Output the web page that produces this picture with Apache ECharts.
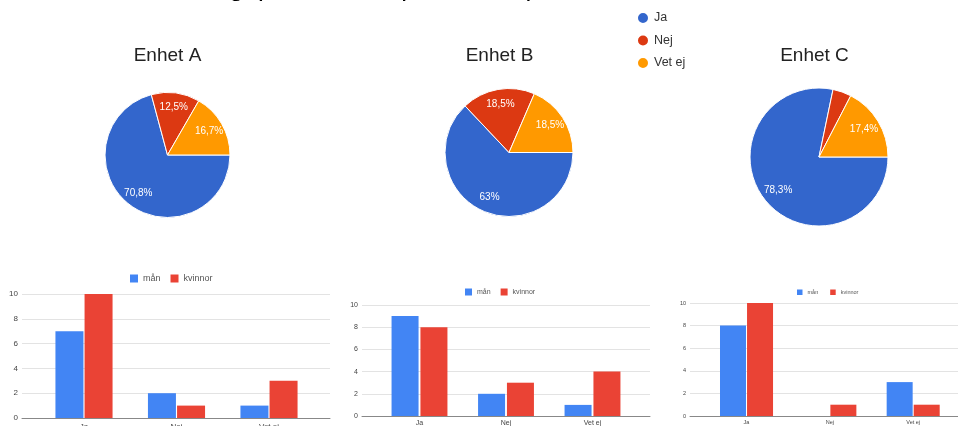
<!DOCTYPE html>
<html><head><meta charset="utf-8">
<script src="https://cdn.jsdelivr.net/npm/echarts@6/dist/echarts.min.js"></script>
<style>html,body{margin:0;padding:0;background:#fff}#c{width:958px;height:426px}</style>
</head><body><div id="c"></div>
<script>
// ---- data ----
const answers = ['Ja', 'Nej', 'Vet ej'];
const units = ['Enhet A', 'Enhet B', 'Enhet C'];
const pieA = [17, 3, 4];
const pieB = [17, 5, 5];
const pieC = [18, 1, 4];
const genders = ['mån', 'kvinnor'];
const manA = [7, 2, 1];
const kvinnorA = [10, 1, 3];
const manB = [9, 2, 1];
const kvinnorB = [8, 3, 4];
const manC = [8, 0, 3];
const kvinnorC = [10, 1, 1];
const yTicks = [0, 2, 4, 6, 8, 10];
const mainTitle = 'Svarsfördelning, per kön och per enhet, per svar';

// ---- styling ----
const FONT = '"Liberation Sans", Arial, sans-serif';
const pieColors = ['#3366CC', '#DC3912', '#FF9900'];
const barColors = ['#4285F4', '#EA4335'];

const pies = [
  {data: pieA, cx: 167.5, cy: 155, r: 62.5, tx: 167.5},
  {data: pieB, cx: 509, cy: 152.5, r: 64, tx: 499.5},
  {data: pieC, cx: 819, cy: 157, r: 69, tx: 814.5}
];
const barCharts = [
  {man: manA, kv: kvinnorA, top: 294, bottom: 8, lineL: 22, lineR: 628, barL: 37.75, barR: 642.75, fs: 8, bw: 28, gap: '4%', lx: 130, ly: 278, ls: 8, lfs: 9, lgap: 10, xm: 5},
  {man: manB, kv: kvinnorB, top: 305, bottom: 10, lineL: 362, lineR: 308, barL: 376.25, barR: 322.25, fs: 7, bw: 27, gap: '7%', lx: 465, ly: 292, ls: 7, lfs: 7, lgap: 10, xm: 4},
  {man: manC, kv: kvinnorC, top: 303, bottom: 10, lineL: 690, lineR: 0, barL: 704.85, barR: 3.15, fs: 5.5, bw: 26, gap: '4%', lx: 797, ly: 292, ls: 5.5, lfs: 5.5, lgap: 12, xm: 3}
];

function fmtPct(p) {
  if (p.percent < 5) return '';
  const v = Math.round(p.percent * 10) / 10;
  return String(v).replace('.', ',') + '%';
}

const titles = [{
  text: mainTitle, left: 63, top: -24.5, padding: 0,
  textStyle: {fontFamily: FONT, fontSize: 26, fontWeight: 'normal', color: '#000'}
}];
units.forEach((u, i) => {
  titles.push({
    text: u, left: pies[i].tx, top: 46, textAlign: 'center', padding: 0,
    textStyle: {fontFamily: FONT, fontSize: 19, fontWeight: 'normal', color: '#222'}
  });
});

const series = [];
pies.forEach((p, i) => {
  const d = answers.map((a, k) => ({name: a, value: p.data[k], itemStyle: {color: pieColors[k]}}));
  series.push({
    type: 'pie', center: [p.cx, p.cy], radius: p.r, startAngle: 0, clockwise: true,
    data: d, label: {show: false}, labelLine: {show: false},
    itemStyle: {borderColor: '#fff', borderWidth: 1}, silent: true
  });
  series.push({
    type: 'pie', center: [p.cx, p.cy], radius: [p.r * 0.44, p.r], startAngle: 0, clockwise: true,
    data: answers.map((a, k) => ({name: a, value: p.data[k]})),
    itemStyle: {color: 'rgba(0,0,0,0)'}, silent: true, legendHoverLink: false,
    label: {show: true, position: 'inside', formatter: fmtPct, color: '#fff', fontSize: 10, fontFamily: FONT},
    labelLine: {show: false}
  });
});

const legends = [{
  data: answers.map(a => ({name: a, icon: 'circle'})), orient: 'vertical', left: 636, top: 11, padding: 0,
  itemWidth: 12, itemHeight: 12, itemGap: 8.5,
  textStyle: {fontFamily: FONT, fontSize: 12.5, color: '#333'}
}];

const grids = [], xAxes = [], yAxes = [];
barCharts.forEach((b, i) => {
  const gLines = grids.length;
  grids.push({left: b.lineL, right: b.lineR, top: b.top, bottom: b.bottom, containLabel: false, outerBoundsMode: 'none'});
  grids.push({left: b.barL, right: b.barR, top: b.top, bottom: b.bottom, containLabel: false, outerBoundsMode: 'none'});
  xAxes.push({gridIndex: gLines, type: 'value', min: 0, max: 1,
    axisLine: {show: true, onZero: false, lineStyle: {color: '#888', width: 1}},
    axisTick: {show: false}, axisLabel: {show: false}, splitLine: {show: false}});
  yAxes.push({gridIndex: gLines, type: 'value', min: yTicks[0], max: yTicks[yTicks.length - 1],
    interval: yTicks[1] - yTicks[0],
    axisLine: {show: false}, axisTick: {show: false},
    axisLabel: {fontFamily: FONT, fontSize: b.fs, color: '#444', margin: 4},
    splitLine: {lineStyle: {color: '#e3e3e3', width: 1}}});
  xAxes.push({gridIndex: gLines + 1, type: 'category', data: answers,
    axisLine: {show: false}, axisTick: {show: false},
    axisLabel: {fontFamily: FONT, fontSize: b.fs, color: '#444', margin: b.xm}});
  yAxes.push({gridIndex: gLines + 1, type: 'value', min: yTicks[0], max: yTicks[yTicks.length - 1], show: false});
  const vals = [b.man, b.kv];
  genders.forEach((g, k) => {
    series.push({
      type: 'bar', name: g, xAxisIndex: gLines + 1, yAxisIndex: gLines + 1,
      data: vals[k], barWidth: b.bw, barGap: b.gap,
      itemStyle: {color: barColors[k]}, silent: true
    });
  });
  legends.push({
    data: genders.map(g => ({name: g, icon: 'rect'})), orient: 'horizontal', padding: 0,
    left: b.lx, top: b.ly - b.ls / 2, itemWidth: b.ls, itemHeight: b.ls, itemGap: b.lgap,
    textStyle: {fontFamily: FONT, fontSize: b.lfs, color: '#555'}
  });
});

const chart = echarts.init(document.getElementById('c'));
chart.setOption({
  animation: false,
  backgroundColor: '#fff',
  title: titles,
  legend: legends,
  grid: grids,
  xAxis: xAxes,
  yAxis: yAxes,
  series: series
});
</script></body></html>
